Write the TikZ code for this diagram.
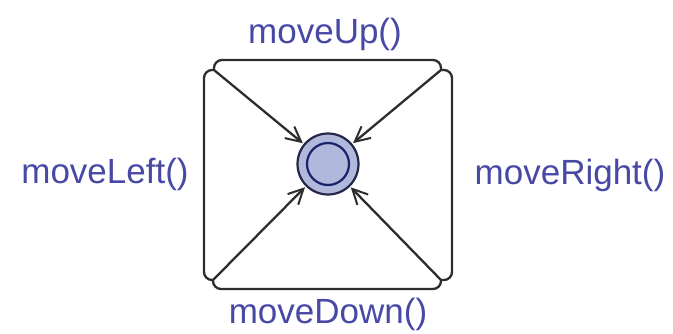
\documentclass[tikz,border=0pt]{standalone}
\usepackage{fontspec}
\setmainfont{Liberation Sans}
\usetikzlibrary{arrows.meta}
\definecolor{lblblue}{RGB}{72,72,165}
\definecolor{edgegray}{RGB}{45,45,45}
\definecolor{statefill}{RGB}{176,184,220}
\definecolor{stateline}{RGB}{35,40,75}
\definecolor{innerline}{RGB}{25,35,105}
\tikzset{
  lbl/.style={text=lblblue, font=\fontsize{35}{40}\selectfont, inner sep=0pt, anchor=base},
  edgeline/.style={draw=edgegray, line width=2.3pt, rounded corners=8pt},
  arrline/.style={draw=edgegray, line width=2.3pt, -{Straight Barb[length=15pt,width=15pt,line width=2pt]}, shorten >=1pt},
  statenode/.style={circle, draw=stateline, line width=2.2pt, fill=statefill, minimum size=61pt, inner sep=0pt},
}
\begin{document}
\begin{tikzpicture}[x=1pt,y=-1pt]
\useasboundingbox (0,0) rectangle (673,333);
\node[statenode] (s) at (328,164) {};
\draw[innerline, line width=2.2pt] (s.center) circle (21pt);
\coordinate (tl) at (214,70);
\coordinate (tr) at (441,70);
\coordinate (bl) at (213,280);
\coordinate (br) at (441,280);
% diagonals with arrowheads at the state
\draw[arrline] (tl) -- (s);
\draw[arrline] (tr) -- (s);
\draw[arrline] (bl) -- (s);
\draw[arrline] (br) -- (s);
% loop edges
\draw[edgeline] (tl) -- (tl |- 0,60) -- (tr |- 0,60) -- (tr);
\draw[edgeline] (tr) -- (452,70) -- (452,280) -- (br);
\draw[edgeline] (br) -- (br |- 0,289) -- (bl |- 0,289) -- (bl);
\draw[edgeline] (bl) -- (204,280) -- (204,70) -- (tl);
% labels
\node[lbl] (up) at (325,43) {moveUp()};
\node[lbl] (left) at (105,183) {moveLeft()};
\node[lbl] (right) at (570,184) {moveRight()};
\node[lbl] (down) at (328,323) {moveDown()};
\end{tikzpicture}
\end{document}
